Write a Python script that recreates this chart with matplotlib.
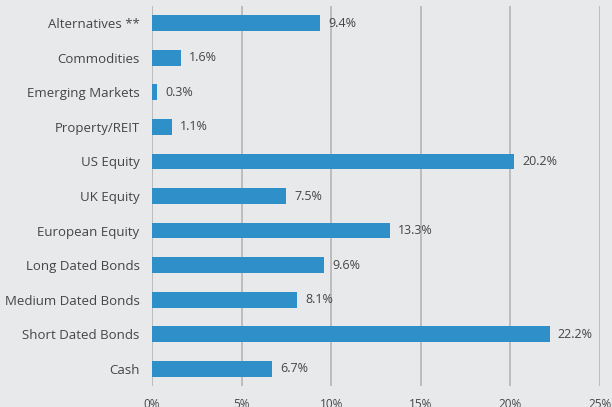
import matplotlib.pyplot as plt
from matplotlib.ticker import FuncFormatter

categories = ["Alternatives **", "Commodities", "Emerging Markets", "Property/REIT",
              "US Equity", "UK Equity", "European Equity", "Long Dated Bonds",
              "Medium Dated Bonds", "Short Dated Bonds", "Cash"]
values = [9.4, 1.6, 0.3, 1.1, 20.2, 7.5, 13.3, 9.6, 8.1, 22.2, 6.7]
x_ticks = [0, 5, 10, 15, 20, 25]

bg = "#e8e9eb"
bar_color = "#2e8fc9"
text_color = "#454545"

plt.rcParams['font.family'] = ['Open Sans', 'DejaVu Sans']

fig = plt.figure(figsize=(6.12, 4.07), dpi=100, facecolor=bg)
ax = fig.add_axes([152 / 612, 1 - 386 / 407, 448 / 612, 380 / 407])
ax.set_facecolor(bg)

y = list(range(len(categories)))
ax.barh(y, values, height=0.46, color=bar_color, zorder=3)
for yi, v in zip(y, values):
    ax.text(v + 0.45, yi, f"{v}%", va="center", ha="left", fontsize=9,
            color=text_color, zorder=4)

ax.set_xlim(0, 25)
ax.set_ylim(len(categories) - 0.5, -0.5)
ax.set_yticks(y)
ax.set_yticklabels(categories, fontsize=9.5, color=text_color)
ax.set_xticks(x_ticks)
ax.xaxis.set_major_formatter(FuncFormatter(lambda v, p: f"{v:.0f}%"))
ax.tick_params(axis="x", length=0, pad=9, labelsize=8.5, labelcolor=text_color)
ax.tick_params(axis="y", length=0, pad=9)
ax.grid(axis="x", color="#b5b5b5", linewidth=1.2, zorder=0)
for s in ax.spines.values():
    s.set_visible(False)

fig.savefig("out.png", dpi=100, facecolor=bg)
